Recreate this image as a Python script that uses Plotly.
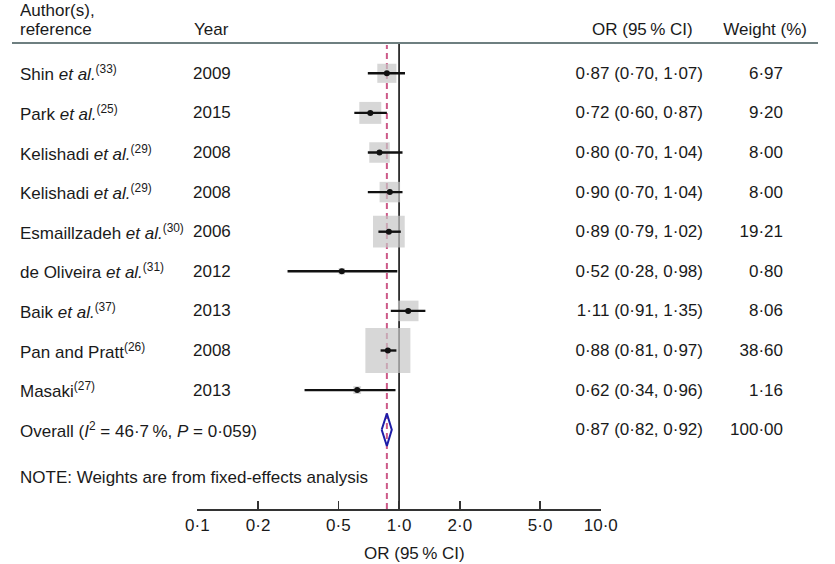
import math
import plotly.graph_objects as go

# ---------------- data ----------------
authors = [
    "Shin <i>et al.</i><sup>(33)</sup>",
    "Park <i>et al.</i><sup>(25)</sup>",
    "Kelishadi <i>et al.</i><sup>(29)</sup>",
    "Kelishadi <i>et al.</i><sup>(29)</sup>",
    "Esmaillzadeh <i>et al.</i><sup>(30)</sup>",
    "de Oliveira <i>et al.</i><sup>(31)</sup>",
    "Baik <i>et al.</i><sup>(37)</sup>",
    "Pan and Pratt<sup>(26)</sup>",
    "Masaki<sup>(27)</sup>",
]
years = ["2009", "2015", "2008", "2008", "2006", "2012", "2013", "2008", "2013"]
or_est = [0.87, 0.72, 0.80, 0.90, 0.89, 0.52, 1.11, 0.88, 0.62]
ci_lo = [0.70, 0.60, 0.70, 0.70, 0.79, 0.28, 0.91, 0.81, 0.34]
ci_hi = [1.07, 0.87, 1.04, 1.04, 1.02, 0.98, 1.35, 0.97, 0.96]
weights = [6.97, 9.20, 8.00, 8.00, 19.21, 0.80, 8.06, 38.60, 1.16]

overall_label = "Overall (<i>I</i><sup>2</sup> = 46·7\u2009%, <i>P</i> = 0·059)"
overall_or = 0.87
overall_lo = 0.82
overall_hi = 0.92
overall_weight = 100.00

note_text = "NOTE: Weights are from fixed-effects analysis"
tick_vals = [0.1, 0.2, 0.5, 1.0, 2.0, 5.0, 10.0]
tick_text = ["0·1", "0·2", "0·5", "1·0", "2·0", "5·0", "10·0"]
header_author = ["Author(s),", "reference"]
header_year = "Year"
header_or = "OR (95\u2009% CI)"
header_weight = "Weight (%)"
axis_title = "OR (95\u2009% CI)"

# ---------------- layout geometry ----------------
W, H = 835, 564
ROW0_PX = 73.3
ROW_STEP = 39.6
AXIS_PX = 509
FONT = "Liberation Sans, Arial, Helvetica, sans-serif"
FS = 17
TXT = "#1a1a1a"


def ydat(px):
    return (px - ROW0_PX) / ROW_STEP


def ypap(px):
    return (AXIS_PX - px) / AXIS_PX


def xpap(px):
    return px / W


def fmt(v):
    return f"{v:.2f}".replace(".", "·")


n = len(authors)
rows = list(range(n))
overall_row = n

fig = go.Figure()

# squares (weight-proportional area)
fig.add_trace(go.Scatter(
    x=or_est, y=rows, mode="markers",
    marker=dict(symbol="square", size=[7.24 * math.sqrt(w) for w in weights],
                color="#c6c6c6", line=dict(width=0)),
    hoverinfo="skip", showlegend=False))

# CI lines
cx, cy = [], []
for lo, hi, r in zip(ci_lo, ci_hi, rows):
    cx += [lo, hi, None]
    cy += [r, r, None]
fig.add_trace(go.Scatter(x=cx, y=cy, mode="lines",
                         line=dict(color="#111111", width=2.4),
                         hoverinfo="skip", showlegend=False))

# point estimates
fig.add_trace(go.Scatter(x=or_est, y=rows, mode="markers",
                         marker=dict(symbol="circle", size=6, color="#111111"),
                         hoverinfo="skip", showlegend=False))

# overall diamond
dh = 0.41
fig.add_trace(go.Scatter(
    x=[overall_lo, overall_or, overall_hi, overall_or, overall_lo],
    y=[overall_row, overall_row - dh, overall_row, overall_row + dh, overall_row],
    mode="lines", line=dict(color="#1c1ca8", width=2),
    hoverinfo="skip", showlegend=False))

# reference lines
top_line = ypap(43)
fig.add_shape(type="line", xref="x", yref="paper", x0=1, x1=1, y0=0, y1=top_line,
              line=dict(color="#111111", width=1.6), layer="below")
fig.add_shape(type="line", xref="x", yref="paper", x0=overall_or, x1=overall_or,
              y0=0, y1=ypap(45), line=dict(color="#cc5a88", width=2, dash="6px,4px"),
              layer="below")
# header rule
fig.add_shape(type="line", xref="paper", yref="paper", x0=0, x1=1, y0=top_line, y1=top_line,
              line=dict(color="#6e7f80", width=2))

ann = []


def add_text(text, x_px, y, yref, anchor="left", box=None):
    d = dict(text=text, x=xpap(x_px), xref="paper", y=y, yref=yref,
             xanchor=anchor, align=anchor, yanchor="middle", showarrow=False,
             borderpad=0, font=dict(family=FONT, size=FS, color=TXT))
    if box is not None:
        d["width"] = box
    ann.append(d)


# headers
add_text(header_author[0], 7, ypap(11), "paper", "left", 150)
add_text(header_author[1], 7, ypap(30), "paper", "left", 150)
add_text(header_year, 188, ypap(30), "paper", "left", 60)
add_text(header_or, 653, ypap(30), "paper", "center")
add_text(header_weight, 825, ypap(30), "paper", "right", 110)

# study rows
for r in rows:
    add_text(authors[r], 7, r, "y", "left", 178)
    add_text(years[r], 186, r, "y", "left", 60)
    add_text(f"{fmt(or_est[r])} ({fmt(ci_lo[r])}, {fmt(ci_hi[r])})", 717, r, "y", "right", 170)
    add_text(fmt(weights[r]), 800, r, "y", "right", 70)

# overall row
add_text(overall_label, 7, overall_row, "y", "left", 330)
add_text(f"{fmt(overall_or)} ({fmt(overall_lo)}, {fmt(overall_hi)})", 717, overall_row, "y", "right", 170)
add_text(fmt(overall_weight), 800, overall_row, "y", "right", 70)

# note and axis title
add_text(note_text, 7, ypap(477), "paper", "left", 420)
add_text(axis_title, 417, ypap(553), "paper", "center")

fig.update_layout(
    width=W, height=H,
    margin=dict(l=0, r=0, t=0, b=H - AXIS_PX, pad=0),
    paper_bgcolor="white", plot_bgcolor="white",
    font=dict(family=FONT, size=FS, color=TXT),
    annotations=ann,
    showlegend=False,
    xaxis=dict(type="log", range=[-1, 1], domain=[xpap(192), xpap(610)],
               tickvals=tick_vals, ticktext=tick_text, ticks="inside", ticklen=8,
               tickwidth=1.5, tickcolor="#333333", showline=True, linecolor="#333333",
               linewidth=1.5, showgrid=False, zeroline=False,
               tickfont=dict(family=FONT, size=FS, color=TXT), fixedrange=True),
    yaxis=dict(range=[ydat(AXIS_PX), ydat(0)], visible=False, showgrid=False,
               zeroline=False, fixedrange=True),
)

fig.write_html("out.html", config={"displayModeBar": False, "staticPlot": True},
               post_script="document.body.style.margin='0';document.body.style.overflow='hidden';")
